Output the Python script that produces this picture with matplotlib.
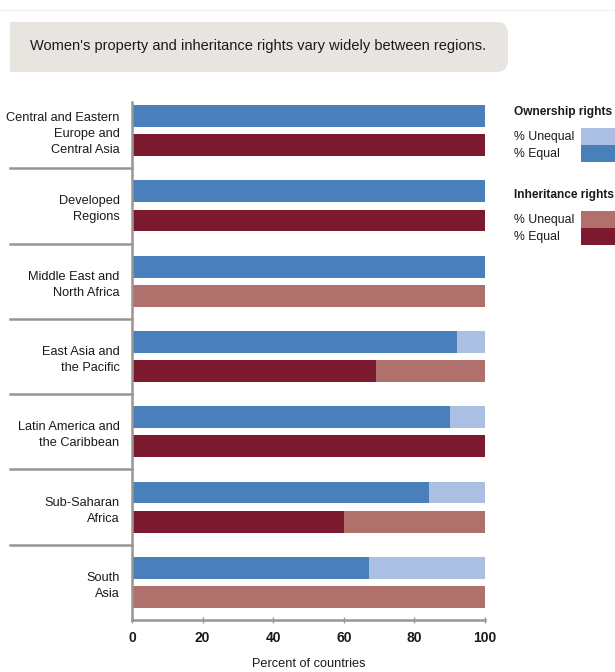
import matplotlib.pyplot as plt
from matplotlib.patches import FancyBboxPatch
import matplotlib.transforms as mtransforms

regions = ["Central and Eastern\nEurope and\nCentral Asia",
           "Developed\nRegions",
           "Middle East and\nNorth Africa",
           "East Asia and\nthe Pacific",
           "Latin America and\nthe Caribbean",
           "Sub-Saharan\nAfrica",
           "South\nAsia"]
ownership_equal = [100, 100, 100, 92, 90, 84, 67]
inheritance_equal = [100, 100, 0, 69, 100, 60, 0]
x_ticks = [0, 20, 40, 60, 80, 100]

BLUE = "#4980bb"
LIGHT_BLUE = "#abbfe2"
RED = "#7b1a2e"
LIGHT_RED = "#b0716d"
GRID = "#9c958f"
TXT = "#1a1a1a"
BOX = "#e8e5e1"

plt.rcParams['font.family'] = ['Liberation Sans Narrow', 'Liberation Sans', 'DejaVu Sans']

fig = plt.figure(figsize=(6.15, 6.72), dpi=100)
ax = fig.add_axes([132 / 615, 1 - 620 / 672, 353 / 615, 527 / 672])

ys = list(range(len(regions)))
off = 0.193
h = 0.29
own_unequal = [100 - v for v in ownership_equal]
inh_unequal = [100 - v for v in inheritance_equal]
ax.barh([y - off for y in ys], ownership_equal, height=h, color=BLUE, linewidth=0)
ax.barh([y - off for y in ys], own_unequal, left=ownership_equal, height=h, color=LIGHT_BLUE, linewidth=0)
ax.barh([y + off for y in ys], inheritance_equal, height=h, color=RED, linewidth=0)
ax.barh([y + off for y in ys], inh_unequal, left=inheritance_equal, height=h, color=LIGHT_RED, linewidth=0)

ax.set_xlim(0, 100)
ax.set_ylim(len(regions) - 0.5, -0.5)
ax.set_yticks(ys)
ax.set_yticklabels(regions, fontsize=9.2, color=TXT, linespacing=1.45)
ax.tick_params(axis='y', length=0, pad=9)
ax.set_xticks(x_ticks)
ax.tick_params(axis='x', direction='inout', length=4, width=1, color=GRID,
               labelsize=10, labelcolor=TXT, pad=6)
for lab in ax.get_xticklabels():
    lab.set_fontweight('bold')
ax.set_xlabel("Percent of countries", fontsize=9.2, color=TXT, labelpad=9)

for side in ['top', 'right']:
    ax.spines[side].set_visible(False)
for side in ['left', 'bottom']:
    ax.spines[side].set_color(GRID)
    ax.spines[side].set_linewidth(1.8)
ax.spines['left'].set_bounds(len(regions) - 0.5, -0.38)

# separators to the left of the axis
trans = mtransforms.blended_transform_factory(ax.transAxes, ax.transData)
for k in range(len(regions) - 1):
    ax.plot([-122 / 353, 0], [k + 0.5, k + 0.5], transform=trans, color=GRID,
            linewidth=1.8, clip_on=False)

# title box: rounded on the right, square on the left
box = FancyBboxPatch((10 / 615, 1 - 72 / 672), 498 / 615, 50 / 672,
                     boxstyle="round,pad=0,rounding_size=0.018",
                     transform=fig.transFigure, facecolor=BOX, edgecolor="none")
fig.patches.append(box)
fig.patches.append(plt.Rectangle((10 / 615, 1 - 72 / 672), 40 / 615, 50 / 672,
                                 transform=fig.transFigure, facecolor=BOX, edgecolor="none"))
fig.text(30 / 615, 1 - 46 / 672, "Women's property and inheritance rights vary widely between regions.",
         fontsize=10.5, color=TXT, va='center', ha='left')
fig.add_artist(plt.Line2D([0, 1], [1 - 10 / 672, 1 - 10 / 672], color="#f2f2f2", linewidth=1))

# legend
def legend_block(y_title, title, c_uneq, c_eq):
    fig.text(514 / 615, 1 - y_title / 672, title, fontsize=8.6, fontweight='bold',
             color=TXT, va='center', ha='left')
    fig.text(514 / 615, 1 - (y_title + 25) / 672, "% Unequal", fontsize=8.8,
             color=TXT, va='center', ha='left')
    fig.text(514 / 615, 1 - (y_title + 42) / 672, "% Equal", fontsize=8.8,
             color=TXT, va='center', ha='left')
    fig.patches.append(plt.Rectangle((581 / 615, 1 - (y_title + 33) / 672), 40 / 615, 17 / 672,
                                     transform=fig.transFigure, color=c_uneq, linewidth=0))
    fig.patches.append(plt.Rectangle((581 / 615, 1 - (y_title + 50) / 672), 40 / 615, 17 / 672,
                                     transform=fig.transFigure, color=c_eq, linewidth=0))

legend_block(112, "Ownership rights", LIGHT_BLUE, BLUE)
legend_block(195, "Inheritance rights", LIGHT_RED, RED)

fig.savefig("out.png", dpi=100)
